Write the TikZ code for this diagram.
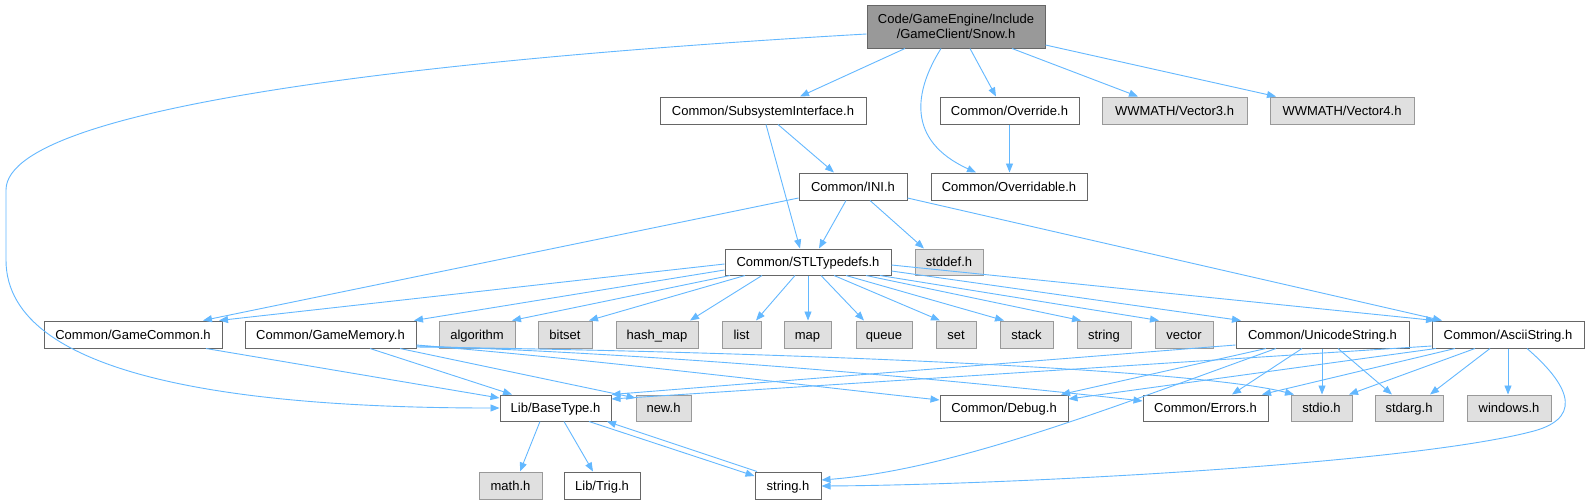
\documentclass[tikz,border=0pt]{standalone}
\usepackage{fontspec}
\setmainfont{Liberation Sans}
\usetikzlibrary{arrows.meta}
\definecolor{edgec}{HTML}{63B8FF}
\definecolor{greyforty}{HTML}{666666}
\definecolor{greysixty}{HTML}{999999}
\definecolor{extfill}{HTML}{E0E0E0}
\begin{document}
\begin{tikzpicture}[x=1pt,y=-1pt,font=\fontsize{13}{15}\selectfont,
  sz/.style 2 args={minimum width=#1pt,minimum height=#2pt},
  nbox/.style={draw=greyforty,fill=white,line width=1pt,inner sep=0pt,anchor=center,text height=9.3pt,text depth=0pt},
  xbox/.style={draw=greysixty,fill=extfill,line width=1pt,inner sep=0pt,anchor=center,text height=9.3pt,text depth=0pt},
  rbox/.style={draw=greyforty,fill=greysixty,line width=1pt,inner sep=0pt,align=center,anchor=center},
  dep/.style={draw=edgec,line width=0.9pt,-{Triangle[length=9pt,width=7pt]}}]
\useasboundingbox[fill=white] (0,0) rectangle (1590,501);
% row 1
\node[rbox,sz={178}{43}] (snow) at (956,26.5) {Code/GameEngine/Include\\/GameClient/Snow.h};
% row 2
\node[nbox,sz={206}{27}] (subsys) at (763,110.5) {Common/SubsystemInterface.h};
\node[nbox,sz={139}{27}] (override) at (1009.5,110.5) {Common/Override.h};
\node[xbox,sz={145}{27}] (vecthree) at (1174.5,110.5) {WWMATH/Vector3.h};
\node[xbox,sz={144}{27}] (vecfour) at (1342,110.5) {WWMATH/Vector4.h};
% row 3
\node[nbox,sz={108}{27}] (ini) at (853,186.5) {Common/INI.h};
\node[nbox,sz={156}{27}] (overridable) at (1009,186.5) {Common/Overridable.h};
% row 4
\node[nbox,sz={166}{26}] (stl) at (808,262) {Common/STLTypedefs.h};
\node[xbox,sz={68}{26}] (stddef) at (949,262) {stddef.h};
% row 5
\node[nbox,sz={178}{27}] (gamecommon) at (133,334.5) {Common/GameCommon.h};
\node[nbox,sz={171}{27}] (gamememory) at (330.5,334.5) {Common/GameMemory.h};
\node[xbox,sz={76}{27}] (algorithm) at (477,334.5) {algorithm};
\node[xbox,sz={54}{27}] (bitset) at (565,334.5) {bitset};
\node[xbox,sz={82}{27}] (hashmap) at (657,334.5) {hash\_map};
\node[xbox,sz={39}{27}] (list) at (741.5,334.5) {list};
\node[xbox,sz={47}{27}] (map) at (807.5,334.5) {map};
\node[xbox,sz={56}{27}] (queue) at (884,334.5) {queue};
\node[xbox,sz={40}{27}] (set) at (956,334.5) {set};
\node[xbox,sz={53}{27}] (stack) at (1026.5,334.5) {stack};
\node[xbox,sz={54}{27}] (string) at (1104,334.5) {string};
\node[xbox,sz={58}{27}] (vector) at (1184,334.5) {vector};
\node[nbox,sz={173}{27}] (unicode) at (1322.5,334.5) {Common/UnicodeString.h};
\node[nbox,sz={152}{27}] (ascii) at (1508,334.5) {Common/AsciiString.h};
% row 6
\node[nbox,sz={111}{26}] (basetype) at (555.5,408) {Lib/BaseType.h};
\node[xbox,sz={55}{26}] (newh) at (663.5,408) {new.h};
\node[nbox,sz={128}{26}] (debug) at (1004,408) {Common/Debug.h};
\node[nbox,sz={125}{26}] (errors) at (1205.5,408) {Common/Errors.h};
\node[xbox,sz={61}{26}] (stdio) at (1321.5,408) {stdio.h};
\node[xbox,sz={68}{26}] (stdarg) at (1409,408) {stdarg.h};
\node[xbox,sz={84}{26}] (windows) at (1509,408) {windows.h};
% row 7
\node[xbox,sz={63}{27}] (math) at (510.5,485.5) {math.h};
\node[nbox,sz={76}{27}] (trig) at (602,485.5) {Lib/Trig.h};
\node[nbox,sz={66}{27}] (stringh) at (788,485.5) {string.h};

% edges from Snow.h
\draw[dep] (snow.west |- 0,34) .. controls (500,55) and (6,100) .. (6,190) -- (6,260)
   .. controls (6,380) and (250,408) .. (basetype.west |- 0,408);
\draw[dep] (snow.south -| 905,0) -- (subsys.north -| 800,0);
\draw[dep] (snow.south -| 941,0) .. controls (915,90) and (905,140) .. (overridable.north -| 976,0);
\draw[dep] (snow.south -| 970,0) -- (override.north -| 996,0);
\draw[dep] (snow.south -| 1012,0) -- (vecthree.north -| 1138,0);
\draw[dep] (snow.east |- 0,45) -- (vecfour.north -| 1276,0);
% SubsystemInterface
\draw[dep] (subsys.south -| 778,0) -- (ini.north -| 834,0);
\draw[dep] (subsys.south -| 766,0) -- (stl.north -| 800,0);
% Override
\draw[dep] (override.south) -- (overridable.north -| override.south);
% INI
\draw[dep] (ini.south -| 846,0) -- (stl.north -| 819,0);
\draw[dep] (ini.south -| 870,0) -- (stddef.north -| 924,0);
\draw[dep] (ini.west |- 0,198) -- (gamecommon.north -| 203,0);
\draw[dep] (ini.east |- 0,198) -- (ascii.north -| 1442,0);
% STLTypedefs
\draw[dep] (stl.west |- 0,264) -- (gamecommon.north -| 219,0);
\draw[dep] (stl.west |- 0,270) -- (gamememory.north -| 414,0);
\draw[dep] (stl.south -| 730,0) -- (algorithm.north -| 512,0);
\draw[dep] (stl.south -| 745,0) -- (bitset.north -| 589,0);
\draw[dep] (stl.south -| 762,0) -- (hashmap.north -| 690,0);
\draw[dep] (stl.south -| 795,0) -- (list.north -| 756,0);
\draw[dep] (stl.south -| 808,0) -- (map.north -| 808,0);
\draw[dep] (stl.south -| 821,0) -- (queue.north -| 864,0);
\draw[dep] (stl.south -| 834,0) -- (set.north -| 940,0);
\draw[dep] (stl.south -| 846,0) -- (stack.north -| 1004,0);
\draw[dep] (stl.south -| 866,0) -- (string.north -| 1081,0);
\draw[dep] (stl.south -| 880,0) -- (vector.north -| 1159,0);
\draw[dep] (stl.east |- 0,271) -- (unicode.north -| 1241,0);
\draw[dep] (stl.east |- 0,265) -- (ascii.north -| 1435,0);
% GameCommon
\draw[dep] (gamecommon.south -| 206,0) -- (basetype.west |- 0,398);
% GameMemory
\draw[dep] (gamememory.south -| 370,0) -- (basetype.north -| 512,0);
\draw[dep] (gamememory.south -| 400,0) -- (newh.west |- 0,398);
\draw[dep] (gamememory.east |- 0,345) .. controls (600,360) and (800,385) .. (debug.west |- 0,400);
\draw[dep] (gamememory.east |- 0,346) .. controls (700,355) and (1000,385) .. (errors.west |- 0,401);
\draw[dep] (gamememory.east |- 0,347) .. controls (800,352) and (1200,370) .. (stdio.north -| 1294,0);
% UnicodeString
\draw[dep] (unicode.west |- 0,345) -- (basetype.north east);
\draw[dep] (unicode.south -| 1266,0) -- (debug.north -| 1061,0);
\draw[dep] (unicode.south -| 1276,0) .. controls (1100,412) and (950,470) .. (stringh.east |- 0,480);
\draw[dep] (unicode.south -| 1302,0) -- (errors.north -| 1232,0);
\draw[dep] (unicode.south -| 1322,0) -- (stdio.north -| 1322,0);
\draw[dep] (unicode.south -| 1338,0) -- (stdarg.north -| 1392,0);
% AsciiString
\draw[dep] (ascii.west |- 0,346) -- (basetype.east |- 0,399);
\draw[dep] (ascii.south -| 1436,0) -- (debug.east |- 0,399);
\draw[dep] (ascii.south -| 1455,0) -- (errors.north -| 1262,0);
\draw[dep] (ascii.south -| 1475,0) -- (stdio.north -| 1349,0);
\draw[dep] (ascii.south -| 1490,0) -- (stdarg.north -| 1430,0);
\draw[dep] (ascii.south -| 1508,0) -- (windows.north -| 1508,0);
\draw[dep] (ascii.south -| 1527,0) .. controls (1575,390) and (1580,420) .. (1530,432)
   .. controls (1400,465) and (1000,485) .. (stringh.east |- 0,486);
% BaseType
\draw[dep] (basetype.south -| 540,0) -- (math.north -| 520,0);
\draw[dep] (basetype.south -| 564,0) -- (trig.north -| 593,0);
\draw[dep] (basetype.south -| 589,0) -- (stringh.west |- 0,476);
\draw[dep] (stringh.north -| 757,0) -- (basetype.south -| 607,0);
\end{tikzpicture}
\end{document}
